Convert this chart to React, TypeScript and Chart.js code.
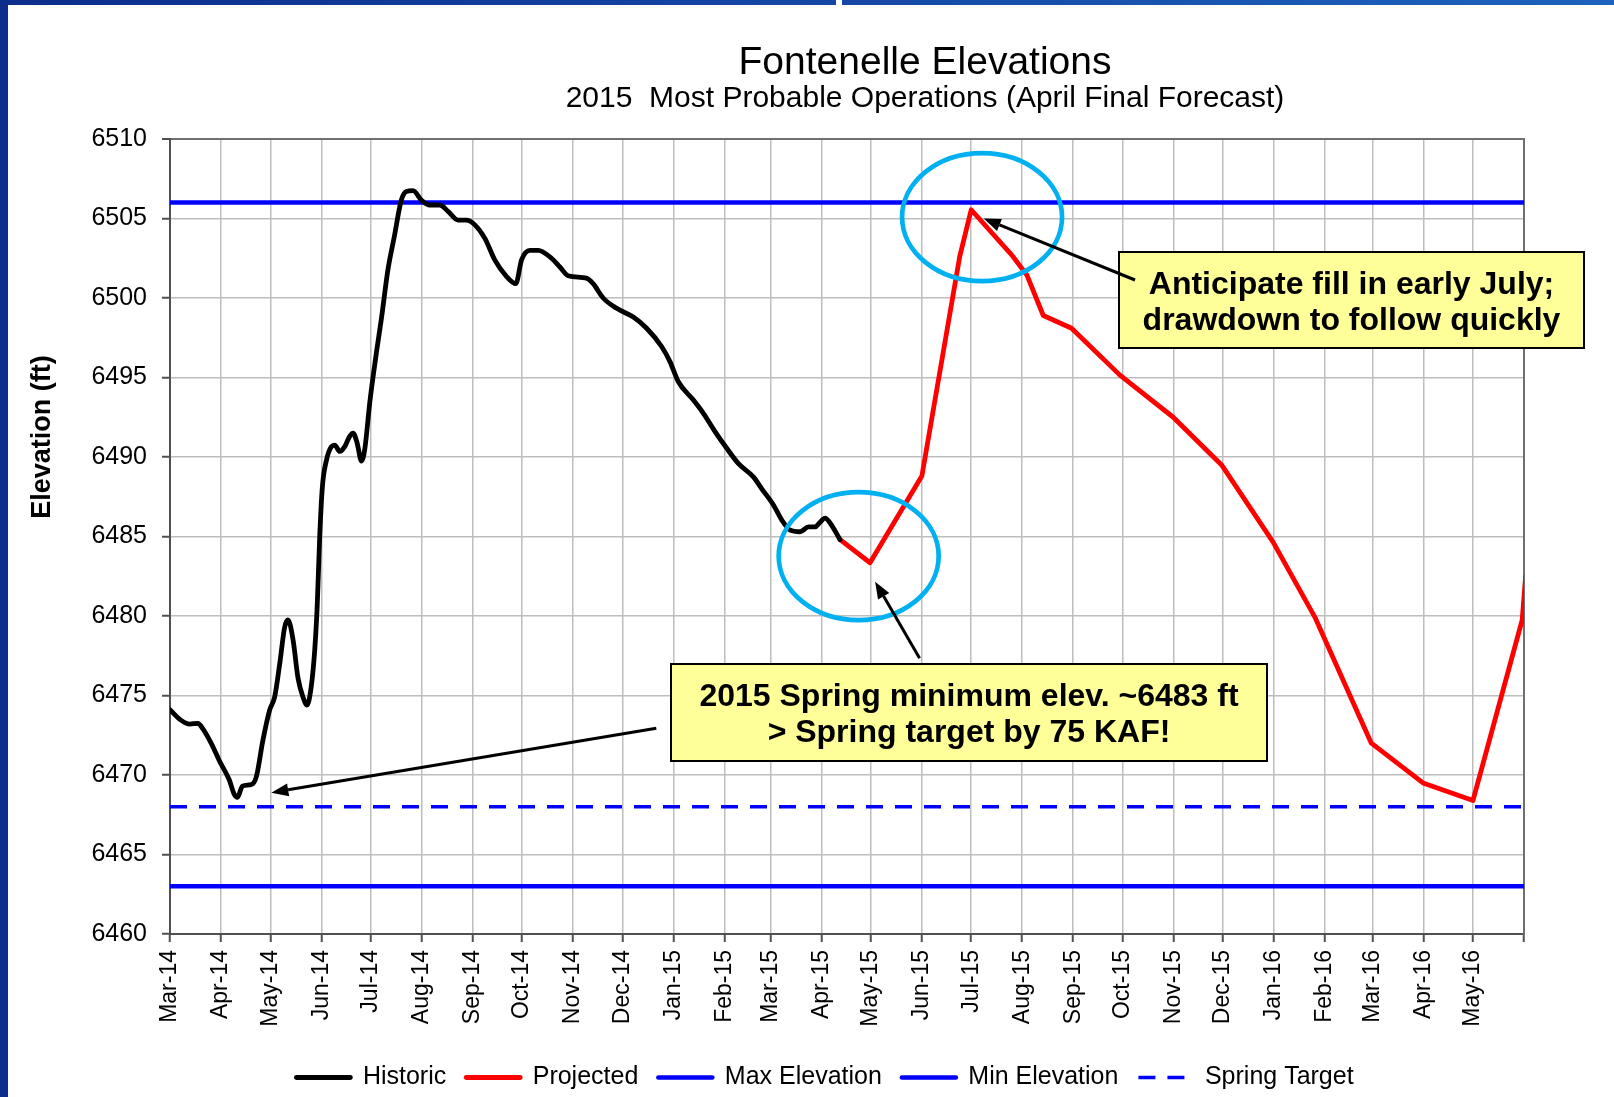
import React, { useEffect, useRef } from 'react';
import { Chart, registerables } from 'chart.js';

Chart.register(...registerables);

const FONT = "'Liberation Sans', Arial, Helvetica, sans-serif";

// x values: days since 1 Mar 2014
const historicDay = [
  0, 6, 12, 17, 20, 25, 30, 36, 39, 41, 44, 49.5, 52.5, 56.5, 60.6, 63.6, 66.7, 69.7, 71.7, 74.8,
  77.8, 80.8, 83.3, 85.9, 88, 89.5, 91, 92.6, 95.1, 98.1, 100.1, 103.2, 106.2, 109.2, 111.3, 113.7,
  116.4, 118.4, 121.4, 123.5, 125.5, 128.5, 132.5, 136.6, 139.2, 140.7, 143.7, 147.7, 152.9, 157.9,
  164, 169, 175.1, 180.2, 185.3, 191.4, 197.4, 204.6, 210.2, 213.7, 218.7, 223.8, 231.9, 237, 242,
  253.2, 257.2, 263.3, 271.5, 281.6, 289.7, 298.8, 303.9, 308.9, 318, 324.2, 331.3, 338.4, 345.4,
  354.6, 359.7, 366.7, 371.8, 376.9, 383, 388, 392.1, 394.7, 398.2, 401.2, 407.3,
];
const historicElev = [
  6474.1, 6473.5, 6473.2, 6473.25, 6472.9, 6472.0, 6470.9, 6469.7, 6468.8, 6468.6, 6469.3, 6469.4,
  6469.9, 6472.2, 6474.1, 6474.9, 6477.0, 6479.3, 6479.75, 6478.5, 6476.1, 6474.9, 6474.4, 6475.6,
  6477.9, 6480.7, 6485.0, 6488.1, 6489.8, 6490.65, 6490.75, 6490.35, 6490.65, 6491.3, 6491.5, 6490.9,
  6489.75, 6490.5, 6493.4, 6495.1, 6496.6, 6498.7, 6501.8, 6504.0, 6505.5, 6506.2, 6506.7, 6506.75,
  6506.15, 6505.85, 6505.85, 6505.45, 6504.9, 6504.9, 6504.6, 6503.75, 6502.4, 6501.35, 6500.9,
  6502.4, 6503.0, 6503.0, 6502.5, 6501.95, 6501.4, 6501.25, 6500.9, 6500.0, 6499.35, 6498.8, 6498.1,
  6496.95, 6496.0, 6494.75, 6493.6, 6492.75, 6491.6, 6490.55, 6489.6, 6488.75, 6488.0, 6487.0,
  6486.05, 6485.4, 6485.3, 6485.6, 6485.6, 6485.85, 6486.15, 6485.85, 6484.8,
];
const projectedDay = [
  407.3, 425.5, 457, 470, 480, 487, 511.7, 520.8, 530.8, 548, 577.4, 609.8, 639.2, 670.5, 695.8,
  730.2, 761.6, 792, 821.9, 824,
];
const projectedElev = [
  6484.8, 6483.35, 6488.8, 6496.6, 6502.6, 6505.55, 6502.7, 6501.45, 6498.9, 6498.1, 6495.15,
  6492.5, 6489.5, 6484.65, 6479.95, 6472.0, 6469.5, 6468.4, 6479.75, 6482.5,
];

const maxElevation = 6506;
const minElevation = 6463;
const springTarget = 6468;

const xStartDay = 0;
const xEndDay = 823;
const yMin = 6460;
const yMax = 6510;
const yStep = 5;

const monthLabels = [
  'Mar-14', 'Apr-14', 'May-14', 'Jun-14', 'Jul-14', 'Aug-14', 'Sep-14', 'Oct-14', 'Nov-14', 'Dec-14',
  'Jan-15', 'Feb-15', 'Mar-15', 'Apr-15', 'May-15', 'Jun-15', 'Jul-15', 'Aug-15', 'Sep-15', 'Oct-15',
  'Nov-15', 'Dec-15', 'Jan-16', 'Feb-16', 'Mar-16', 'Apr-16', 'May-16', '',
];
const monthTickDays = monthLabels.map(
  (_, i) => Math.round((Date.UTC(2014, 2 + i, 1) - Date.UTC(2014, 2, 1)) / 86400000)
);

const titleText = 'Fontenelle Elevations';
const subtitleText = '2015  Most Probable Operations (April Final Forecast)';
const yAxisTitle = 'Elevation (ft)';
const legendNames = ['Historic', 'Projected', 'Max Elevation', 'Min Elevation', 'Spring Target'];
const calloutFillLines = ['Anticipate fill in early July;', 'drawdown to follow quickly'];
const calloutSpringLines = ['2015 Spring minimum elev. ~6483 ft', '> Spring target by 75 KAF!'];

// annotation anchors in data units (day, elevation)
const ellipseAnchors = [
  { day: 418.6, elev: 6483.77 },
  { day: 493.6, elev: 6505.09 },
];
const arrowTips = [
  { day: 494.6, elev: 6505.0 },
  { day: 428.6, elev: 6482.16 },
  { day: 61.6, elev: 6468.89 },
];

const toPoints = (xs: number[], ys: number[]) => xs.map((x, i) => ({ x, y: ys[i] }));
const flat = (v: number) => [{ x: xStartDay, y: v }, { x: xEndDay, y: v }];

function drawArrow(ctx: CanvasRenderingContext2D, x1: number, y1: number, x2: number, y2: number) {
  const ang = Math.atan2(y2 - y1, x2 - x1);
  const len = 17;
  const hw = 6.5;
  const bx = x2 - Math.cos(ang) * len;
  const by = y2 - Math.sin(ang) * len;
  ctx.strokeStyle = '#000';
  ctx.lineWidth = 3;
  ctx.lineCap = 'butt';
  ctx.setLineDash([]);
  ctx.beginPath();
  ctx.moveTo(x1, y1);
  ctx.lineTo(bx, by);
  ctx.stroke();
  ctx.fillStyle = '#000';
  ctx.beginPath();
  ctx.moveTo(x2, y2);
  ctx.lineTo(bx + Math.sin(ang) * hw, by - Math.cos(ang) * hw);
  ctx.lineTo(bx - Math.sin(ang) * hw, by + Math.cos(ang) * hw);
  ctx.closePath();
  ctx.fill();
}

function drawCallout(ctx: CanvasRenderingContext2D, x: number, y: number, w: number, h: number, lines: string[]) {
  ctx.fillStyle = '#FFFF99';
  ctx.fillRect(x, y, w, h);
  ctx.strokeStyle = '#000';
  ctx.lineWidth = 2;
  ctx.setLineDash([]);
  ctx.strokeRect(x, y, w, h);
  ctx.fillStyle = '#000';
  ctx.font = `bold 32px ${FONT}`;
  ctx.textAlign = 'center';
  ctx.textBaseline = 'alphabetic';
  lines.forEach((t, i) => ctx.fillText(t, x + w / 2, y + 42 + i * 35.5));
}

const decorPlugin = {
  id: 'decor',
  afterDatasetsDraw(chart: any) {
    const ctx: CanvasRenderingContext2D = chart.ctx;
    const xs = chart.scales.x;
    const ys = chart.scales.y;
    const px = (d: number) => xs.getPixelForValue(d);
    const py = (v: number) => ys.getPixelForValue(v);
    ctx.save();
    ctx.strokeStyle = '#00B0F0';
    ctx.lineWidth = 4.7;
    ctx.setLineDash([]);
    ellipseAnchors.forEach((e) => {
      ctx.beginPath();
      ctx.ellipse(px(e.day), py(e.elev), 80, 64, 0, 0, Math.PI * 2);
      ctx.stroke();
    });
    drawCallout(ctx, 1119, 252, 465, 96, calloutFillLines);
    drawCallout(ctx, 671, 664, 596, 97, calloutSpringLines);
    drawArrow(ctx, 1135, 280, px(arrowTips[0].day), py(arrowTips[0].elev));
    drawArrow(ctx, 919.6, 658.3, px(arrowTips[1].day), py(arrowTips[1].elev));
    drawArrow(ctx, 656.3, 728.3, px(arrowTips[2].day), py(arrowTips[2].elev));
    ctx.restore();
  },
  afterDraw(chart: any) {
    const ctx: CanvasRenderingContext2D = chart.ctx;
    ctx.save();
    ctx.fillStyle = '#000';
    ctx.textAlign = 'center';
    ctx.textBaseline = 'alphabetic';
    ctx.font = `39px ${FONT}`;
    ctx.fillText(titleText, 925, 74);
    ctx.font = `30px ${FONT}`;
    ctx.fillText(subtitleText, 925, 107);
    ctx.translate(43, 437);
    ctx.rotate(-Math.PI / 2);
    ctx.textBaseline = 'middle';
    ctx.font = `bold 27px ${FONT}`;
    ctx.fillText(yAxisTitle, 0, 0);
    ctx.restore();
  },
};

export default function App() {
  const ref = useRef<HTMLCanvasElement>(null);

  useEffect(() => {
    if (!ref.current) return;
    Chart.defaults.font.family = FONT;
    const gridColor = '#BDBDBD';
    const axisColor = '#505050';
    const chart = new Chart(ref.current, {
      type: 'line',
      data: {
        datasets: [
          {
            label: legendNames[0],
            data: toPoints(historicDay, historicElev),
            borderColor: '#000000',
            backgroundColor: '#000000',
            borderWidth: 4.8,
            cubicInterpolationMode: 'monotone',
            borderCapStyle: 'round',
            borderJoinStyle: 'round',
            pointRadius: 0,
          },
          {
            label: legendNames[1],
            data: toPoints(projectedDay, projectedElev),
            borderColor: '#FF0000',
            backgroundColor: '#FF0000',
            borderWidth: 4.8,
            tension: 0,
            borderCapStyle: 'round',
            borderJoinStyle: 'round',
            pointRadius: 0,
          },
          {
            label: legendNames[2],
            data: flat(maxElevation),
            borderColor: '#0000FF',
            backgroundColor: '#0000FF',
            borderWidth: 4.5,
            borderCapStyle: 'round',
            pointRadius: 0,
          },
          {
            label: legendNames[3],
            data: flat(minElevation),
            borderColor: '#0000FF',
            backgroundColor: '#0000FF',
            borderWidth: 4.5,
            borderCapStyle: 'round',
            pointRadius: 0,
          },
          {
            label: legendNames[4],
            data: flat(springTarget),
            borderColor: '#0000FF',
            backgroundColor: '#0000FF',
            borderWidth: 3.5,
            borderDash: [17, 12],
            borderCapStyle: 'butt',
            pointRadius: 0,
          },
        ],
      } as any,
      options: {
        responsive: false,
        animation: false,
        events: [],
        layout: { padding: { top: 139, left: 36, right: 0, bottom: -3 } },
        scales: {
          x: {
            type: 'linear',
            position: 'bottom',
            min: xStartDay,
            max: xEndDay,
            afterBuildTicks: (s: any) => {
              s.ticks = monthTickDays.map((v) => ({ value: v }));
            },
            afterFit: (s: any) => {
              s.height = 111;
            },
            ticks: {
              autoSkip: false,
              minRotation: 90,
              maxRotation: 90,
              padding: 8,
              color: '#000',
              font: { size: 23, family: FONT },
              callback: (_v: any, i: number) => monthLabels[i] ?? '',
            },
            grid: {
              color: gridColor,
              lineWidth: 1.5,
              tickLength: 8,
              tickColor: axisColor,
              tickWidth: 2,
            },
            border: { color: axisColor, width: 2 },
          },
          y: {
            type: 'linear',
            position: 'left',
            min: yMin,
            max: yMax,
            afterFit: (s: any) => {
              s.width = 134;
            },
            ticks: {
              stepSize: yStep,
              padding: 15,
              color: '#000',
              font: { size: 25, family: FONT },
              callback: (v: any) => String(v),
            },
            grid: {
              color: (c: any) => (c.tick && c.tick.value === yMax ? '#707070' : gridColor),
              lineWidth: (c: any) => (c.tick && c.tick.value === yMax ? 2 : 1.5),
              tickLength: 8,
              tickColor: axisColor,
              tickWidth: 2,
            },
            border: { color: axisColor, width: 2 },
          },
          yRight: {
            type: 'linear',
            position: 'right',
            min: yMin,
            max: yMax,
            afterFit: (s: any) => {
              s.width = 90;
            },
            ticks: { display: false },
            grid: { drawOnChartArea: false, drawTicks: false },
            border: { display: true, color: '#707070', width: 2 },
          },
        },
        plugins: {
          title: { display: false },
          tooltip: { enabled: false },
          legend: {
            display: true,
            position: 'bottom',
            labels: {
              usePointStyle: true,
              pointStyle: 'line',
              pointStyleWidth: 54,
              padding: 20,
              color: '#000',
              font: { size: 25, family: FONT },
              generateLabels: (ch: any) =>
                ch.data.datasets.map((ds: any, i: number) => ({
                  text: ds.label,
                  fillStyle: ds.borderColor,
                  strokeStyle: ds.borderColor,
                  fontColor: '#000',
                  lineWidth: ds.borderWidth,
                  lineDash: ds.borderDash || [],
                  lineDashOffset: 0,
                  lineCap: ds.borderCapStyle || 'butt',
                  lineJoin: 'round',
                  pointStyle: 'line',
                  rotation: 0,
                  hidden: false,
                  datasetIndex: i,
                })),
            },
          },
        },
      } as any,
      plugins: [decorPlugin],
    });
    return () => chart.destroy();
  }, []);

  return (
    <div
      style={{
        position: 'fixed',
        left: 0,
        top: 0,
        width: 1614,
        height: 1097,
        overflow: 'hidden',
        background: '#ffffff',
      }}
    >
      <canvas
        ref={ref}
        width={1614}
        height={1097}
        style={{ position: 'absolute', left: 0, top: 0, width: 1614, height: 1097, display: 'block' }}
      />
      <div style={{ position: 'absolute', left: 0, top: 0, width: 8, height: 1097, background: '#0c2d8c' }} />
      <div
        style={{
          position: 'absolute',
          left: 0,
          top: 0,
          width: 1614,
          height: 5,
          background: 'linear-gradient(90deg, #0c2d8c 0%, #1546a6 50%, #1e63bd 100%)',
        }}
      />
      <div style={{ position: 'absolute', left: 836, top: 0, width: 6, height: 5, background: '#ffffff' }} />
    </div>
  );
}
